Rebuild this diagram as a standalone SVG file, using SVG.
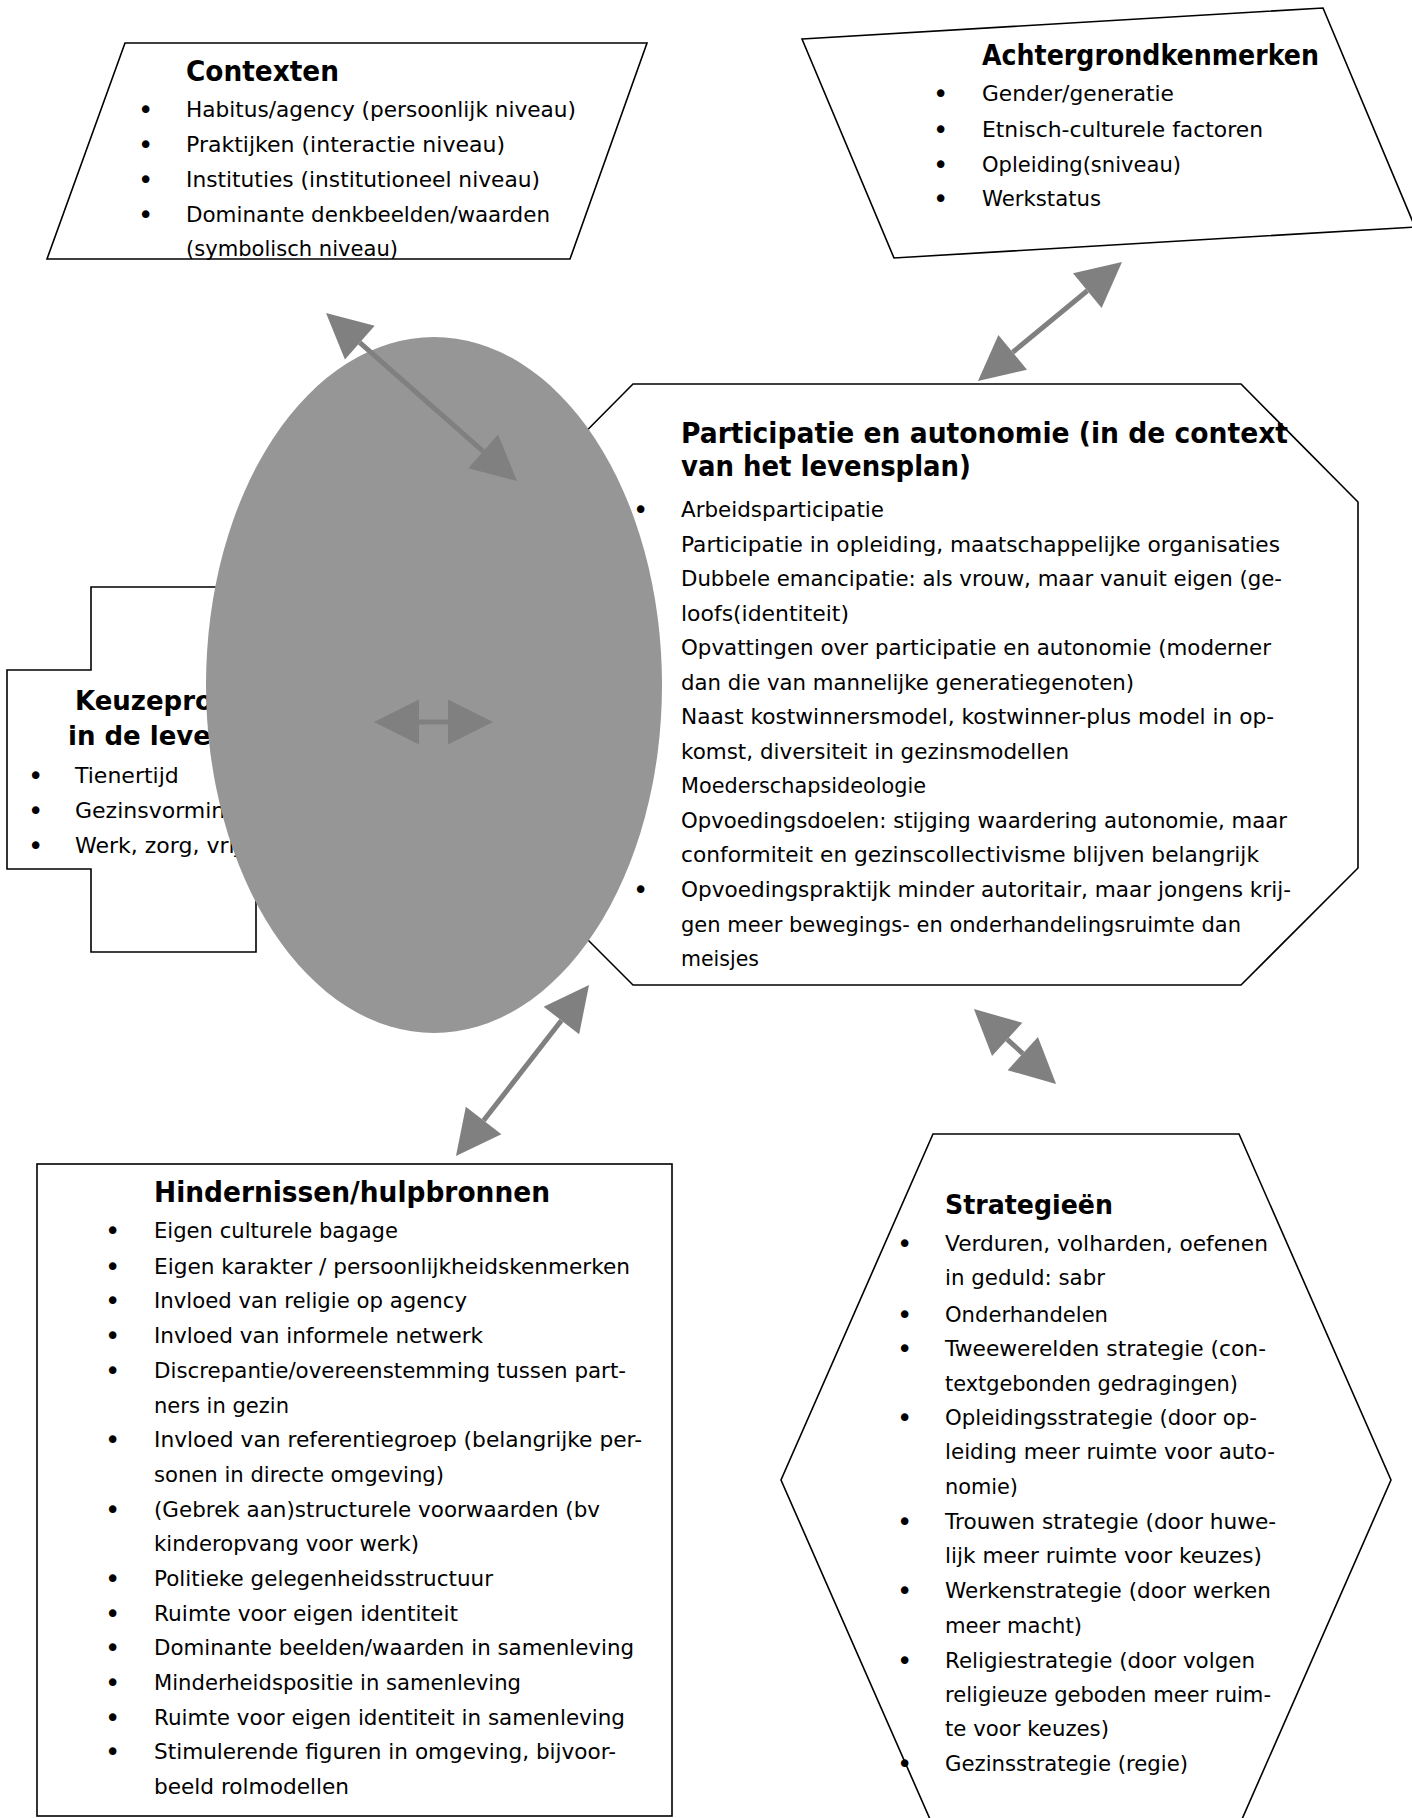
<svg xmlns="http://www.w3.org/2000/svg" width="1412" height="1818" viewBox="0 0 1412 1818">
<defs>
<style>
.box{fill:#fff;stroke:#000;stroke-width:1.6}
.t{font-family:"DejaVu Sans","Liberation Sans",sans-serif;font-size:21px;fill:#000}
.h{font-weight:bold;font-size:28px}
.b{font-family:"DejaVu Sans","Liberation Sans",sans-serif;font-size:26px;fill:#000}
.arrow{fill:none;stroke:#808080;stroke-width:5;marker-start:url(#ah);marker-end:url(#ah)}
</style>
<marker id="ah" markerUnits="userSpaceOnUse" markerWidth="46" markerHeight="46" refX="0" refY="22.5" orient="auto-start-reverse" overflow="visible">
<path d="M0,0 L45,22.5 L0,45 Z" fill="#808080"/>
</marker>
</defs>
<rect width="1412" height="1818" fill="#fff"/>

<g id="contexten">
<polygon class="box" points="125,43 647,43 570,259 47,259"/>
<text class="t h" x="186" y="81" textLength="153" lengthAdjust="spacingAndGlyphs">Contexten</text>
<g class="b">
<text x="138" y="119">•</text>
<text x="138" y="154">•</text>
<text x="138" y="189">•</text>
<text x="138" y="224">•</text>
</g>
<text class="t" x="186" y="117" textLength="390" lengthAdjust="spacingAndGlyphs">Habitus/agency (persoonlijk niveau)</text>
<text class="t" x="186" y="152" textLength="319" lengthAdjust="spacingAndGlyphs">Praktijken (interactie niveau)</text>
<text class="t" x="186" y="187" textLength="354" lengthAdjust="spacingAndGlyphs">Instituties (institutioneel niveau)</text>
<text class="t" x="186" y="222" textLength="364" lengthAdjust="spacingAndGlyphs">Dominante denkbeelden/waarden</text>
<text class="t" x="186" y="256" textLength="212" lengthAdjust="spacingAndGlyphs">(symbolisch niveau)</text>
</g>

<g id="achtergrondkenmerken">
<polygon class="box" points="802,39 1323,8 1415,227 894,258"/>
<text class="t h" x="982" y="65" textLength="337" lengthAdjust="spacingAndGlyphs">Achtergrondkenmerken</text>
<g class="b">
<text x="933" y="103">•</text>
<text x="933" y="139">•</text>
<text x="933" y="174">•</text>
<text x="933" y="208">•</text>
</g>
<text class="t" x="982" y="101" textLength="192" lengthAdjust="spacingAndGlyphs">Gender/generatie</text>
<text class="t" x="982" y="137" textLength="281" lengthAdjust="spacingAndGlyphs">Etnisch-culturele factoren</text>
<text class="t" x="982" y="172" textLength="199" lengthAdjust="spacingAndGlyphs">Opleiding(sniveau)</text>
<text class="t" x="982" y="206" textLength="119" lengthAdjust="spacingAndGlyphs">Werkstatus</text>
</g>

<g id="keuzeprocessen">
<path class="box" d="M91,587 H256 V670 H340 V869 H256 V952 H91 V869 H7 V670 H91 Z"/>
<text class="t" x="75" y="710" style="font-weight:bold;font-size:26px">Keuzeprocessen</text>
<text class="t" x="68" y="745" style="font-weight:bold;font-size:26px">in de levensloop</text>
<g class="b">
<text x="28" y="785">•</text>
<text x="28" y="820">•</text>
<text x="28" y="855">•</text>
</g>
<text class="t" x="75" y="783" style="font-size:22px">Tienertijd</text>
<text class="t" x="75" y="818" style="font-size:22px">Gezinsvorming</text>
<text class="t" x="75" y="853" style="font-size:22px">Werk, zorg, vrije tijd</text>
</g>

<g id="participatie">
<polygon class="box" points="633,384 1241,384 1358,502 1358,868 1241,985 633,985 516,868 516,502"/>
<text class="t h" x="681" y="443" textLength="607" lengthAdjust="spacingAndGlyphs">Participatie en autonomie (in de context</text>
<text class="t h" x="681" y="476" textLength="290" lengthAdjust="spacingAndGlyphs">van het levensplan)</text>
<g class="b">
<text x="633" y="519">•</text>
<text x="633" y="899">•</text>
</g>
<text class="t" x="681" y="517" textLength="203" lengthAdjust="spacingAndGlyphs">Arbeidsparticipatie</text>
<text class="t" x="681" y="552" textLength="599" lengthAdjust="spacingAndGlyphs">Participatie in opleiding, maatschappelijke organisaties</text>
<text class="t" x="681" y="586" textLength="601" lengthAdjust="spacingAndGlyphs">Dubbele emancipatie: als vrouw, maar vanuit eigen (ge-</text>
<text class="t" x="681" y="621" textLength="168" lengthAdjust="spacingAndGlyphs">loofs(identiteit)</text>
<text class="t" x="681" y="655" textLength="590" lengthAdjust="spacingAndGlyphs">Opvattingen over participatie en autonomie (moderner</text>
<text class="t" x="681" y="690" textLength="453" lengthAdjust="spacingAndGlyphs">dan die van mannelijke generatiegenoten)</text>
<text class="t" x="681" y="724" textLength="593" lengthAdjust="spacingAndGlyphs">Naast kostwinnersmodel, kostwinner-plus model in op-</text>
<text class="t" x="681" y="759" textLength="388" lengthAdjust="spacingAndGlyphs">komst, diversiteit in gezinsmodellen</text>
<text class="t" x="681" y="793" textLength="245" lengthAdjust="spacingAndGlyphs">Moederschapsideologie</text>
<text class="t" x="681" y="828" textLength="606" lengthAdjust="spacingAndGlyphs">Opvoedingsdoelen: stijging waardering autonomie, maar</text>
<text class="t" x="681" y="862" textLength="578" lengthAdjust="spacingAndGlyphs">conformiteit en gezinscollectivisme blijven belangrijk</text>
<text class="t" x="681" y="897" textLength="610" lengthAdjust="spacingAndGlyphs">Opvoedingspraktijk minder autoritair, maar jongens krij-</text>
<text class="t" x="681" y="932" textLength="560" lengthAdjust="spacingAndGlyphs">gen meer bewegings- en onderhandelingsruimte dan</text>
<text class="t" x="681" y="966" textLength="78" lengthAdjust="spacingAndGlyphs">meisjes</text>
</g>

<g id="hindernissen">
<rect class="box" x="37" y="1164" width="635" height="652"/>
<text class="t h" x="154" y="1202" textLength="396" lengthAdjust="spacingAndGlyphs">Hindernissen/hulpbronnen</text>
<g class="b">
<text x="105" y="1240">•</text>
<text x="105" y="1276">•</text>
<text x="105" y="1310">•</text>
<text x="105" y="1345">•</text>
<text x="105" y="1380">•</text>
<text x="105" y="1449">•</text>
<text x="105" y="1519">•</text>
<text x="105" y="1588">•</text>
<text x="105" y="1623">•</text>
<text x="105" y="1657">•</text>
<text x="105" y="1692">•</text>
<text x="105" y="1727">•</text>
<text x="105" y="1761">•</text>
</g>
<g class="t">
<text x="154" y="1238" textLength="244" lengthAdjust="spacingAndGlyphs">Eigen culturele bagage</text>
<text x="154" y="1274" textLength="476" lengthAdjust="spacingAndGlyphs">Eigen karakter / persoonlijkheidskenmerken</text>
<text x="154" y="1308" textLength="313" lengthAdjust="spacingAndGlyphs">Invloed van religie op agency</text>
<text x="154" y="1343" textLength="329" lengthAdjust="spacingAndGlyphs">Invloed van informele netwerk</text>
<text x="154" y="1378" textLength="472" lengthAdjust="spacingAndGlyphs">Discrepantie/overeenstemming tussen part-</text>
<text x="154" y="1413" textLength="135" lengthAdjust="spacingAndGlyphs">ners in gezin</text>
<text x="154" y="1447" textLength="488" lengthAdjust="spacingAndGlyphs">Invloed van referentiegroep (belangrijke per-</text>
<text x="154" y="1482" textLength="290" lengthAdjust="spacingAndGlyphs">sonen in directe omgeving)</text>
<text x="154" y="1517" textLength="446" lengthAdjust="spacingAndGlyphs">(Gebrek aan)structurele voorwaarden (bv</text>
<text x="154" y="1551" textLength="265" lengthAdjust="spacingAndGlyphs">kinderopvang voor werk)</text>
<text x="154" y="1586" textLength="339" lengthAdjust="spacingAndGlyphs">Politieke gelegenheidsstructuur</text>
<text x="154" y="1621" textLength="304" lengthAdjust="spacingAndGlyphs">Ruimte voor eigen identiteit</text>
<text x="154" y="1655" textLength="480" lengthAdjust="spacingAndGlyphs">Dominante beelden/waarden in samenleving</text>
<text x="154" y="1690" textLength="367" lengthAdjust="spacingAndGlyphs">Minderheidspositie in samenleving</text>
<text x="154" y="1725" textLength="471" lengthAdjust="spacingAndGlyphs">Ruimte voor eigen identiteit in samenleving</text>
<text x="154" y="1759" textLength="462" lengthAdjust="spacingAndGlyphs">Stimulerende figuren in omgeving, bijvoor-</text>
<text x="154" y="1794" textLength="195" lengthAdjust="spacingAndGlyphs">beeld rolmodellen</text>
</g>
</g>

<g id="strategieen">
<polygon class="box" points="933,1134 1239,1134 1391,1480 1239,1826 933,1826 781,1480"/>
<text class="t" x="945" y="1214" style="font-weight:bold;font-size:27px" textLength="168" lengthAdjust="spacingAndGlyphs">Strategieën</text>
<g class="b">
<text x="897" y="1253">•</text>
<text x="897" y="1324">•</text>
<text x="897" y="1358">•</text>
<text x="897" y="1427">•</text>
<text x="897" y="1531">•</text>
<text x="897" y="1600">•</text>
<text x="897" y="1670">•</text>
<text x="897" y="1773">•</text>
</g>
<g class="t">
<text x="945" y="1251" textLength="323" lengthAdjust="spacingAndGlyphs">Verduren, volharden, oefenen</text>
<text x="945" y="1285" textLength="160" lengthAdjust="spacingAndGlyphs">in geduld: sabr</text>
<text x="945" y="1322" textLength="163" lengthAdjust="spacingAndGlyphs">Onderhandelen</text>
<text x="945" y="1356" textLength="321" lengthAdjust="spacingAndGlyphs">Tweewerelden strategie (con-</text>
<text x="945" y="1391" textLength="293" lengthAdjust="spacingAndGlyphs">textgebonden gedragingen)</text>
<text x="945" y="1425" textLength="312" lengthAdjust="spacingAndGlyphs">Opleidingsstrategie (door op-</text>
<text x="945" y="1459" textLength="330" lengthAdjust="spacingAndGlyphs">leiding meer ruimte voor auto-</text>
<text x="945" y="1494" textLength="73" lengthAdjust="spacingAndGlyphs">nomie)</text>
<text x="945" y="1529" textLength="331" lengthAdjust="spacingAndGlyphs">Trouwen strategie (door huwe-</text>
<text x="945" y="1563" textLength="317" lengthAdjust="spacingAndGlyphs">lijk meer ruimte voor keuzes)</text>
<text x="945" y="1598" textLength="326" lengthAdjust="spacingAndGlyphs">Werkenstrategie (door werken</text>
<text x="945" y="1633" textLength="137" lengthAdjust="spacingAndGlyphs">meer macht)</text>
<text x="945" y="1668" textLength="310" lengthAdjust="spacingAndGlyphs">Religiestrategie (door volgen</text>
<text x="945" y="1702" textLength="326" lengthAdjust="spacingAndGlyphs">religieuze geboden meer ruim-</text>
<text x="945" y="1736" textLength="164" lengthAdjust="spacingAndGlyphs">te voor keuzes)</text>
<text x="945" y="1771" textLength="243" lengthAdjust="spacingAndGlyphs">Gezinsstrategie (regie)</text>
</g>
</g>

<g id="centrum">
<ellipse cx="434" cy="685" rx="228" ry="348" fill="#969696"/>
</g>

<g id="connectors">
<line class="arrow" x1="359.8" y1="342.7" x2="483.2" y2="451.3"/>
<line class="arrow" x1="1087.3" y1="290.7" x2="1012.7" y2="352.3"/>
<line class="arrow" x1="419" y1="722" x2="448" y2="722"/>
<line class="arrow" x1="561.4" y1="1020.5" x2="483.6" y2="1120.5"/>
<line class="arrow" x1="1007.2" y1="1039.4" x2="1022.8" y2="1053.6"/>
</g>
</svg>
